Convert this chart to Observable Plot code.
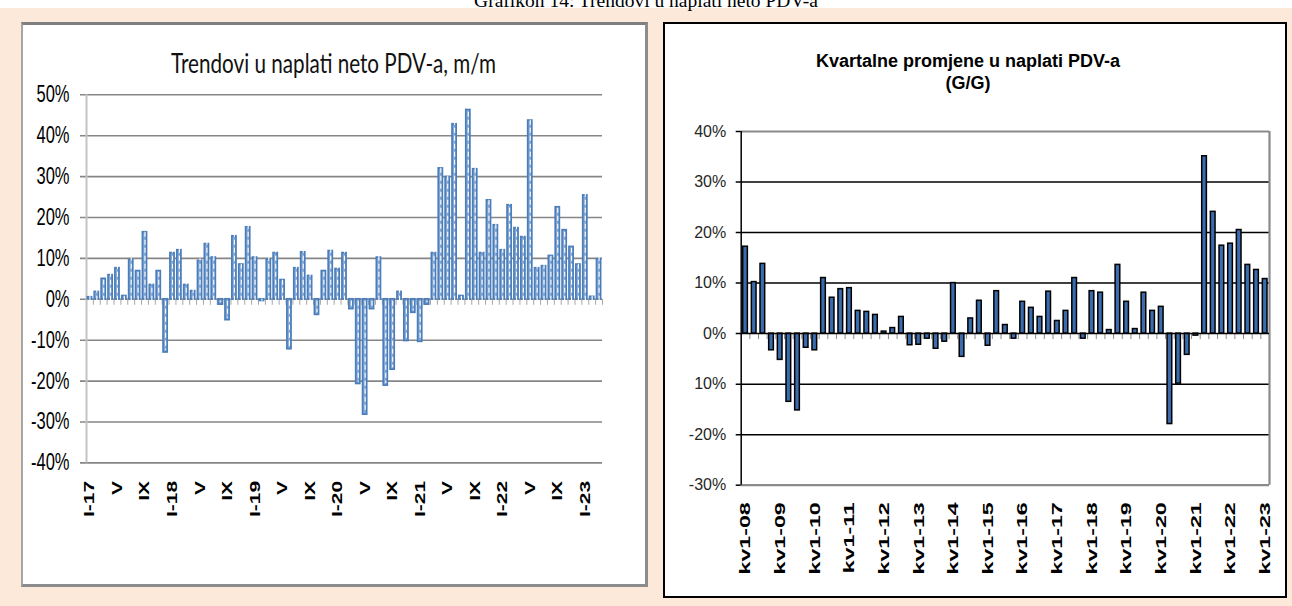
<!DOCTYPE html>
<html><head><meta charset="utf-8">
<script src="https://cdn.jsdelivr.net/npm/d3@7"></script>
<script src="https://cdn.jsdelivr.net/npm/@observablehq/plot@0.6"></script>
<style>
html,body{margin:0;padding:0;background:#fff;}
body{width:1292px;height:606px;position:relative;overflow:hidden;font-family:"Liberation Sans",Arial,sans-serif;}
#bg{position:absolute;left:0;top:8px;width:1292px;height:598px;background:#FDE9D9;}
#toptitle{position:absolute;left:0;top:-11px;width:1292px;text-align:center;font-family:"Liberation Serif","Times New Roman",serif;font-size:19.5px;line-height:24px;color:#000;}
#lbox{position:absolute;box-sizing:border-box;left:21px;top:22px;width:627px;height:565px;background:#fff;border-top:3px solid #7f7f7f;border-left:2px solid #a6a6a6;border-right:3px solid #8c8c8c;border-bottom:3px solid #8c8c8c;}
#rbox{position:absolute;box-sizing:border-box;left:663px;top:22px;width:624px;height:576px;background:#fff;border:2px solid #000;}
#ltitlewrap{position:absolute;left:134px;top:52.2px;width:400px;text-align:center;line-height:20px;}
#ltitle{display:inline-block;font-family:Lato,"Open Sans",sans-serif;font-size:18px;color:#111;transform-origin:50% 50%;white-space:nowrap;}
#rtitle{position:absolute;left:768px;top:50px;width:400px;text-align:center;font-family:"Liberation Sans",Arial,sans-serif;font-weight:bold;font-size:18px;line-height:22px;color:#000;}
.chart{position:absolute;}
</style>
</head><body>
<div id="bg"></div>
<div id="toptitle">Grafikon 14: Trendovi u naplati neto PDV-a</div>
<div id="lbox"></div>
<div id="rbox"></div>
<div id="ltitlewrap"><span id="ltitle">Trendovi u naplati neto PDV-a, m/m</span></div>
<div id="rtitle">Kvartalne promjene u naplati PDV-a<br>(G/G)</div>
<div id="lchart" class="chart" style="left:21px;top:22px"></div>
<div id="rchart" class="chart" style="left:663px;top:22px"></div>
<script>
// ---------- Left chart data: monthly m/m change (%), I-2017 .. III-2023 ----------
const leftValues = [
  0.5, 1.8, 5.0, 5.9, 7.6, 0.8, 9.6, 6.9, 16.4, 3.5, 6.9, -13.0,
  11.3, 12.0, 3.5, 2.0, 9.4, 13.5, 10.2, -1.3, -5.1, 15.4, 8.5, 17.6,
  10.2, -0.4, 9.7, 11.3, 4.7, -12.2, 7.6, 11.5, 5.7, -3.8, 6.9, 11.8,
  7.4, 11.3, -2.4, -20.7, -28.2, -2.4, 10.2, -21.1, -17.2, 1.8, -10.2, -3.3,
  -10.4, -1.3, 11.3, 32.0, 29.9, 42.8, 0.8, 46.3, 31.8, 11.3, 24.2, 18.1,
  12.0, 23.0, 17.4, 15.2, 43.7, 7.6, 8.1, 10.6, 22.5, 16.9, 12.8, 8.5,
  25.4, 0.6, 9.8
];
const leftTickLabels = ["I-17","V","IX","I-18","V","IX","I-19","V","IX","I-20","V","IX","I-21","V","IX","I-22","V","IX","I-23"];
const leftYTicks = [-40,-30,-20,-10,0,10,20,30,40,50];
const leftYLabels = ["-40%","-30%","-20%","-10%","0%","10%","20%","30%","40%","50%"];

// ---------- Right chart data: quarterly y/y change (%), kv1-08 .. kv1-23 ----------
const rightValues = [
  17.2, 10.2, 13.8, -3.3,
  -5.2, -13.5, -15.2, -2.8,
  -3.3, 11.0, 7.1, 8.8,
  9.0, 4.5, 4.3, 3.7,
  0.4, 1.1, 3.3, -2.3,
  -2.2, -1.0, -3.0, -1.6,
  10.0, -4.6, 3.0, 6.5,
  -2.4, 8.4, 1.7, -1.0,
  6.3, 5.1, 3.3, 8.3,
  2.5, 4.5, 11.0, -1.0,
  8.4, 8.1, 0.7, 13.6,
  6.3, 0.9, 8.1, 4.5,
  5.3, -17.9, -9.9, -4.2,
  -0.4, 35.1, 24.1, 17.4,
  17.8, 20.5, 13.6, 12.6,
  10.8
];
const rightTickLabels = ["kv1-08","kv1-09","kv1-10","kv1-11","kv1-12","kv1-13","kv1-14","kv1-15","kv1-16","kv1-17","kv1-18","kv1-19","kv1-20","kv1-21","kv1-22","kv1-23"];
const rightYTicks = [-30,-20,-10,0,10,20,30,40];
const rightYLabels = ["-30%","-20%","10%","0%","10%","20%","30%","40%"];

// ---------- helpers ----------
function stretch(svg, sel, sx, sy) {
  d3.select(svg).selectAll(sel).each(function () {
    let t = this.getAttribute("transform");
    if (!t || t.indexOf("translate") < 0) {
      const x = +(this.getAttribute("x") || 0), y = +(this.getAttribute("y") || 0);
      this.removeAttribute("x"); this.removeAttribute("y");
      t = `translate(${x},${y})` + (t ? " " + t : "");
    }
    this.setAttribute("transform", t + ` scale(${sx},${sy})`);
  });
}

// ---------- Left chart ----------
{
  const W = 627, H = 565, mL = 65, mR = 46, mT = 72.3, mB = 124.6;
  const n = leftValues.length;
  const step = (W - mL - mR) / n;
  const pxPerUnit = (H - mT - mB) / 90;
  const data = leftValues.map((v, i) => ({m: i, v}));
  const ticks = d3.range(0, n, 4);
  const plot = Plot.plot({
    width: W, height: H,
    marginLeft: mL, marginRight: mR, marginTop: mT, marginBottom: mB,
    style: {background: "transparent", overflow: "visible", color: "#000", fontFamily: "'Liberation Sans', Arial, sans-serif"},
    x: {type: "band", domain: d3.range(n), paddingInner: 0.4, paddingOuter: 0.2, axis: null, label: null},
    y: {domain: [-40, 50], axis: null, label: null},
    marks: [
      Plot.ruleY(leftYTicks, {stroke: "#868686", strokeWidth: 1.6, insetLeft: -6}),
      Plot.ruleX([0], {y1: -40, y2: 50, dx: -step / 2, stroke: "#c4c4c4", strokeWidth: 2}),
      Plot.ruleX(data, {x: "m", y1: 0, y2: -6 / pxPerUnit, dx: step / 2, stroke: "#a6a6a6", strokeWidth: 1}),
      Plot.barY(data, {x: "m", y: "v", fill: "#86a8d6", stroke: "#4a7ebb", strokeWidth: 1.7}),
      Plot.ruleX(data, {x: "m", y1: 0, y2: "v", stroke: "#ffffff", strokeWidth: 1.1, strokeDasharray: "5,3", insetTop: 2, insetBottom: 2}),
      Plot.axisY({ticks: leftYTicks, tickFormat: d => leftYLabels[leftYTicks.indexOf(d)], tickSize: 0, tickPadding: 17, fontSize: 16.5, anchor: "left", label: null}),
      Plot.axisX(ticks, {tickRotate: -90, tickSize: 0, tickPadding: 18, fontSize: 14, fontWeight: "bold", tickFormat: i => leftTickLabels[i / 4], anchor: "bottom", label: null})
    ]
  });
  stretch(plot, 'g[aria-label="y-axis tick label"] text', 1, 1.4);
  stretch(plot, 'g[aria-label="x-axis tick label"] text', 1.5, 1);
  d3.select(plot).selectAll('g[aria-label="x-axis tick label"] text').attr("font-weight", "bold");
  document.getElementById("lchart").append(plot);
}

// ---------- Right chart ----------
{
  const W = 624, H = 576, mL = 77.7, mR = 18, mT = 109, mB = 113.3;
  const n = rightValues.length;
  const step = (W - mL - mR) / n;
  const pxPerUnit = (H - mT - mB) / 70;
  const data = rightValues.map((v, i) => ({q: i, v}));
  const ticks = d3.range(0, n, 4);
  const plotW = W - mL - mR;
  const plot = Plot.plot({
    width: W, height: H,
    marginLeft: mL, marginRight: mR, marginTop: mT, marginBottom: mB,
    style: {background: "transparent", overflow: "visible", color: "#000", fontFamily: "'Liberation Sans', Arial, sans-serif"},
    x: {type: "band", domain: d3.range(n), paddingInner: 0.46, paddingOuter: 0.23, axis: null, label: null},
    y: {domain: [-30, 40], axis: null, label: null},
    marks: [
      Plot.ruleY([30, 20, 10, -10, -20], {stroke: "#000", strokeWidth: 1.5, insetLeft: -5}),
      Plot.ruleY([40, -30], {stroke: "#8a8a8a", strokeWidth: 2.2}),
      Plot.ruleY([40, -30], {stroke: "#000", strokeWidth: 1.5, insetLeft: -5, insetRight: plotW}),
      Plot.ruleX([n - 1], {y1: -30, y2: 40, dx: step / 2, stroke: "#8a8a8a", strokeWidth: 2.2}),
      Plot.ruleX(data, {x: "q", y1: 0, y2: -6 / pxPerUnit, dx: step / 2, stroke: "#8c8c8c", strokeWidth: 1}),
      Plot.barY(data, {x: "q", y: "v", fill: "#3a6cae", stroke: "#000", strokeWidth: 1.5}),
      Plot.ruleY([0], {stroke: "#000", strokeWidth: 1.5, insetLeft: -5}),
      Plot.ruleX([0], {y1: -30, y2: 40, dx: -step / 2, stroke: "#000", strokeWidth: 1.5}),
      Plot.axisY({ticks: rightYTicks, tickFormat: d => rightYLabels[rightYTicks.indexOf(d)], tickSize: 0, tickPadding: 15, fontSize: 16, anchor: "left", fill: "#262626", label: null}),
      Plot.axisX(ticks, {tickRotate: -90, tickSize: 0, tickPadding: 17, fontSize: 15, fontWeight: "bold", tickFormat: i => rightTickLabels[i / 4], anchor: "bottom", label: null})
    ]
  });
  stretch(plot, 'g[aria-label="x-axis tick label"] text', 1.55, 1);
  d3.select(plot).selectAll('g[aria-label="x-axis tick label"] text').attr("font-weight", "bold");
  document.getElementById("rchart").append(plot);
}

// ---------- Left title: narrow, tall rendering ----------
{
  const lt = document.getElementById("ltitle");
  const w = lt.getBoundingClientRect().width;
  lt.style.transform = `scale(${325 / w},1.5)`;
}
</script>
</body></html>
